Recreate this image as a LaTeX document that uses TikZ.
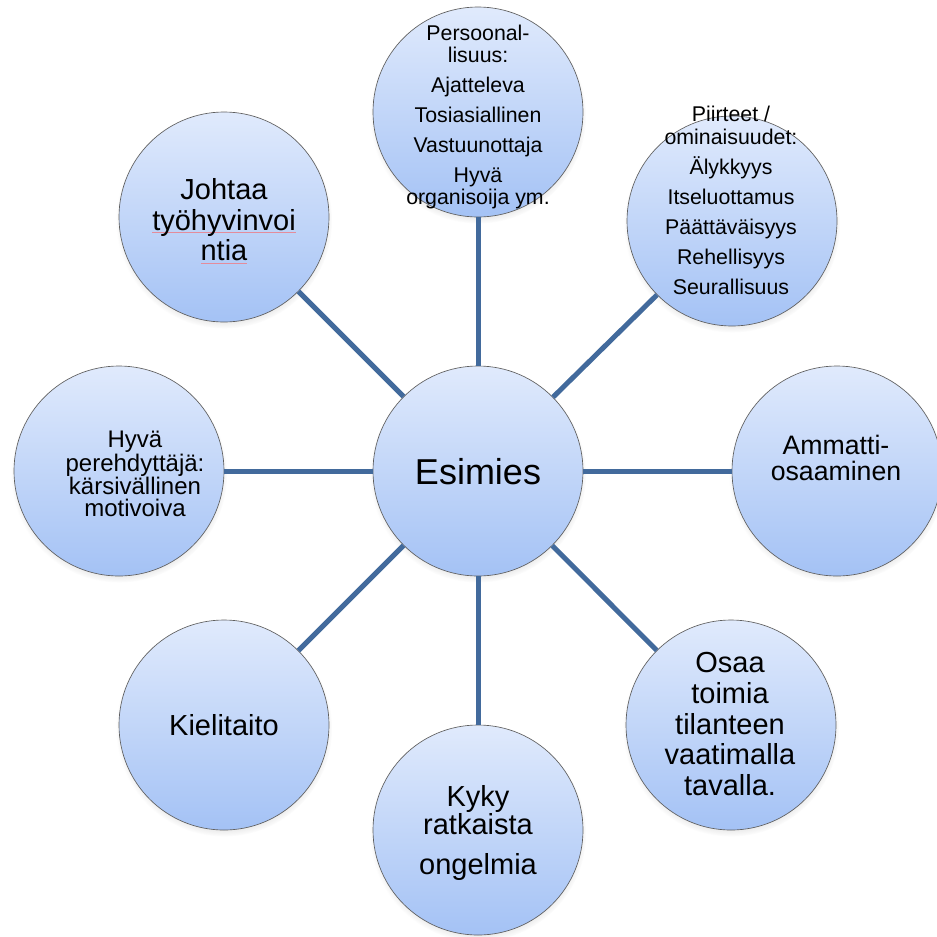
\documentclass[tikz,border=0pt]{standalone}
\usepackage{fontspec}
\setmainfont{Liberation Sans}
\usepackage{tikz}
\usetikzlibrary{shadows,fadings}

\definecolor{bubtop}{RGB}{224,234,252}
\definecolor{bubbot}{RGB}{164,194,245}
\definecolor{rimgray}{RGB}{95,95,95}
\definecolor{spokeblue}{RGB}{66,106,156}
\definecolor{spellred}{RGB}{228,140,155}

% spell-check style underline under a word
\newcommand{\spellmark}[1]{\setbox0\hbox{#1}\rlap{\textcolor{spellred}{\rule[-1.8pt]{\wd0}{0.6pt}}}\box0}

\begin{document}
\begin{tikzpicture}[x=0.75pt,y=-0.75pt,
                    bubble/.style={circle,draw=rimgray,line width=0.5pt,
                      top color=bubtop,bottom color=bubbot,
                      minimum size=157.5pt,inner sep=0pt,
                      circular drop shadow={shadow xshift=0pt,shadow yshift=-2.5pt,
                        shadow scale=1.03,opacity=0.35}},
                    spoke/.style={draw=spokeblue,line width=3.75pt},
                    words/.style={align=center,inner sep=0pt}]
  %\tikzstyle{every node}=[draw=red]
  \useasboundingbox (0,0) rectangle (937,936);

  \node[bubble] (ES) at (478,471) {};
  \node[bubble] (PE) at (478,112) {};
  \node[bubble] (PI) at (732,221) {};
  \node[bubble] (AM) at (837,471) {};
  \node[bubble] (OS) at (731,725) {};
  \node[bubble] (KY) at (478,830) {};
  \node[bubble] (KI) at (224,725) {};
  \node[bubble] (HP) at (119,471) {};
  \node[bubble] (JT) at (224,217) {};

  \path[spoke] (ES) edge (PE)
                    edge (PI)
                    edge (AM)
                    edge (OS)
                    edge (KY)
                    edge (KI)
                    edge (HP)
                    edge (JT);

  \node[words,font=\fontsize{27}{30}\selectfont] (tES) at (478,472) {Esimies};
  \node[words,font=\fontsize{16}{16.5}\selectfont] (tPE) at (478,117)
    {Persoonal-\\lisuus:\\[6pt]Ajatteleva\\[6pt]Tosiasiallinen\\[6pt]Vastuunottaja\\[6pt]Hyvä\\organisoija ym.};
  \node[words,font=\fontsize{16}{17.25}\selectfont] (tPI) at (731,200)
    {Piirteet /\\ominaisuudet:\\[5.25pt]Älykkyys\\[5.25pt]Itseluottamus\\[5.25pt]Päättäväisyys\\[5.25pt]Rehellisyys\\[5.25pt]Seurallisuus};
  \node[words,font=\fontsize{20}{19.8}\selectfont] (tAM) at (836,458) {Ammatti-\\osaaminen};
  \node[words,font=\fontsize{21.75}{23.1}\selectfont] (tOS) at (730,724)
    {Osaa\\toimia\\tilanteen\\vaatimalla\\tavalla.};
  \node[words,font=\fontsize{21.75}{19.3}\selectfont] (tKY) at (478,833)
    {Kyky\\ratkaista\\[10.7pt]ongelmia};
  \node[words,font=\fontsize{21.75}{24}\selectfont] (tKI) at (224,725) {Kielitaito};
  \node[words,font=\fontsize{18}{16.7}\selectfont] (tHP) at (135,474)
    {Hyvä\\perehdyttäjä:\\kärsivällinen\\motivoiva};
  \node[words,font=\fontsize{21.75}{23}\selectfont] (tJT) at (224,221)
    {Johtaa\\\spellmark{työhyvinvoi}\\\spellmark{ntia}};
\end{tikzpicture}
\end{document}
